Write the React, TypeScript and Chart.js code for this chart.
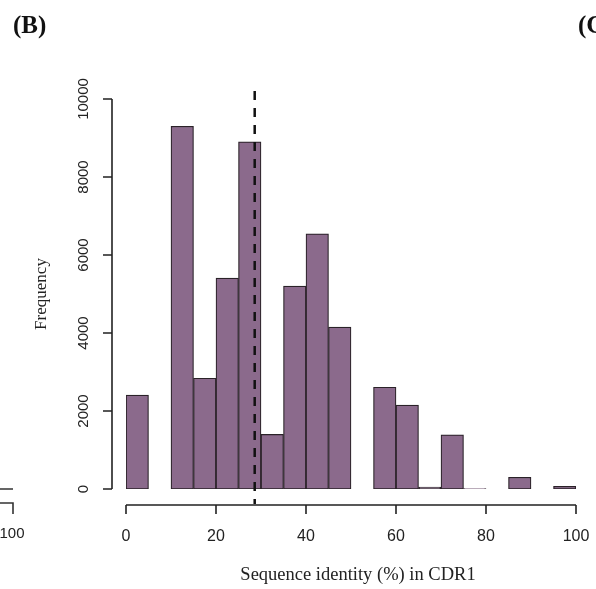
import React, { useEffect, useRef } from "react";
import { Chart, registerables } from "chart.js";

Chart.register(...registerables);

const binStarts = [0, 5, 10, 15, 20, 25, 30, 35, 40, 45, 50, 55, 60, 65, 70, 75, 80, 85, 90, 95];
const binWidth = 5;
const frequencies = [2410, 0, 9300, 2840, 5410, 8900, 1400, 5200, 6540, 4150, 0, 2610, 2150, 50, 1390, 10, 0, 300, 0, 70];
const xTicks = [0, 20, 40, 60, 80, 100];
const yTicks = [0, 2000, 4000, 6000, 8000, 10000];
const meanLine = 28.6;
const xTitle = "Sequence identity (%) in CDR1";
const yTitle = "Frequency";
const panelLabel = "(B)";
const nextPanelLabel = "(C";
const prevPanelTick = "100";

const rAxesPlugin = {
  id: "rAxes",
  afterDraw(chart: any) {
    const ctx = chart.ctx as CanvasRenderingContext2D;
    const xs = chart.scales.x;
    const ys = chart.scales.y;
    const y0 = ys.getPixelForValue(0);
    const yMax = ys.getPixelForValue(10000);
    ctx.save();
    // dashed vertical line
    ctx.strokeStyle = "#111";
    ctx.lineWidth = 2.5;
    ctx.setLineDash([9, 8]);
    const mx = xs.getPixelForValue(meanLine);
    ctx.beginPath();
    ctx.moveTo(mx, yMax - 8);
    ctx.lineTo(mx, y0 + 15);
    ctx.stroke();
    ctx.setLineDash([]);

    ctx.strokeStyle = "#222";
    ctx.lineWidth = 1.6;
    // x axis
    const axY = y0 + 16;
    ctx.beginPath();
    ctx.moveTo(xs.getPixelForValue(xTicks[0]), axY);
    ctx.lineTo(xs.getPixelForValue(xTicks[xTicks.length - 1]), axY);
    for (const t of xTicks) {
      const px = xs.getPixelForValue(t);
      ctx.moveTo(px, axY);
      ctx.lineTo(px, axY + 9);
    }
    ctx.stroke();
    ctx.fillStyle = "#222";
    ctx.font = "16px 'Liberation Sans', Arial, sans-serif";
    ctx.textAlign = "center";
    ctx.textBaseline = "middle";
    for (const t of xTicks) {
      ctx.fillText(String(t), xs.getPixelForValue(t), axY + 32);
    }
    // y axis
    ctx.font = "15px 'Liberation Sans', Arial, sans-serif";
    const axX = xs.getPixelForValue(0) - 14;
    ctx.beginPath();
    ctx.moveTo(axX, ys.getPixelForValue(yTicks[0]));
    ctx.lineTo(axX, ys.getPixelForValue(yTicks[yTicks.length - 1]));
    for (const t of yTicks) {
      const py = ys.getPixelForValue(t);
      ctx.moveTo(axX, py);
      ctx.lineTo(axX - 9, py);
    }
    ctx.stroke();
    for (const t of yTicks) {
      const py = ys.getPixelForValue(t);
      ctx.save();
      ctx.translate(axX - 28, py);
      ctx.rotate(-Math.PI / 2);
      ctx.fillText(String(t), 0, 0);
      ctx.restore();
    }
    // axis titles
    ctx.font = "18.5px 'Liberation Serif', 'Times New Roman', serif";
    ctx.fillStyle = "#222";
    ctx.fillText(xTitle, (xs.left + xs.right) / 2 + 7, axY + 70);
    ctx.font = "17px 'Liberation Serif', 'Times New Roman', serif";
    ctx.save();
    ctx.translate(42, (y0 + yMax) / 2);
    ctx.rotate(-Math.PI / 2);
    ctx.fillText(yTitle, 0, 0);
    ctx.restore();
    // panel labels
    ctx.font = "bold 25px 'Liberation Serif', 'Times New Roman', serif";
    ctx.fillStyle = "#111";
    ctx.textAlign = "left";
    ctx.fillText(panelLabel, 13, 27);
    ctx.fillText(nextPanelLabel, 578, 27);
    // previous panel remnants
    ctx.strokeStyle = "#333";
    ctx.lineWidth = 1.6;
    ctx.beginPath();
    ctx.moveTo(0, y0);
    ctx.lineTo(13, y0);
    ctx.moveTo(0, axY - 2);
    ctx.lineTo(13, axY - 2);
    ctx.lineTo(13, axY + 9);
    ctx.stroke();
    ctx.font = "15px 'Liberation Sans', Arial, sans-serif";
    ctx.fillStyle = "#222";
    ctx.textAlign = "center";
    ctx.fillText(prevPanelTick, 12, axY + 29);
    ctx.restore();
  },
};

export default function App() {
  const ref = useRef<HTMLCanvasElement | null>(null);
  useEffect(() => {
    if (!ref.current) return;
    const chart = new Chart(ref.current, {
      type: "bar",
      data: {
        datasets: [
          {
            data: binStarts.map((s, i) => ({ x: s + binWidth / 2, y: frequencies[i] })),
            backgroundColor: "#8b6a8c",
            borderColor: "#2a2228",
            borderWidth: 1.2,
            barPercentage: 1,
            categoryPercentage: 1,
            borderSkipped: false,
          },
        ],
      },
      options: {
        animation: false,
        responsive: false,
        maintainAspectRatio: false,
        layout: { padding: { left: 126, right: 20, top: 99, bottom: 100 } },
        plugins: { legend: { display: false }, tooltip: { enabled: false } },
        scales: {
          x: { type: "linear", min: 0, max: 100, offset: false, display: false },
          y: { type: "linear", min: 0, max: 10000, display: false },
        },
      },
      plugins: [rAxesPlugin],
    });
    return () => chart.destroy();
  }, []);
  return (
    <div style={{ position: "fixed", left: 0, top: 0, width: 596, height: 589, background: "#fff" }}>
      <canvas ref={ref} width={596} height={589} style={{ width: 596, height: 589 }} />
    </div>
  );
}
